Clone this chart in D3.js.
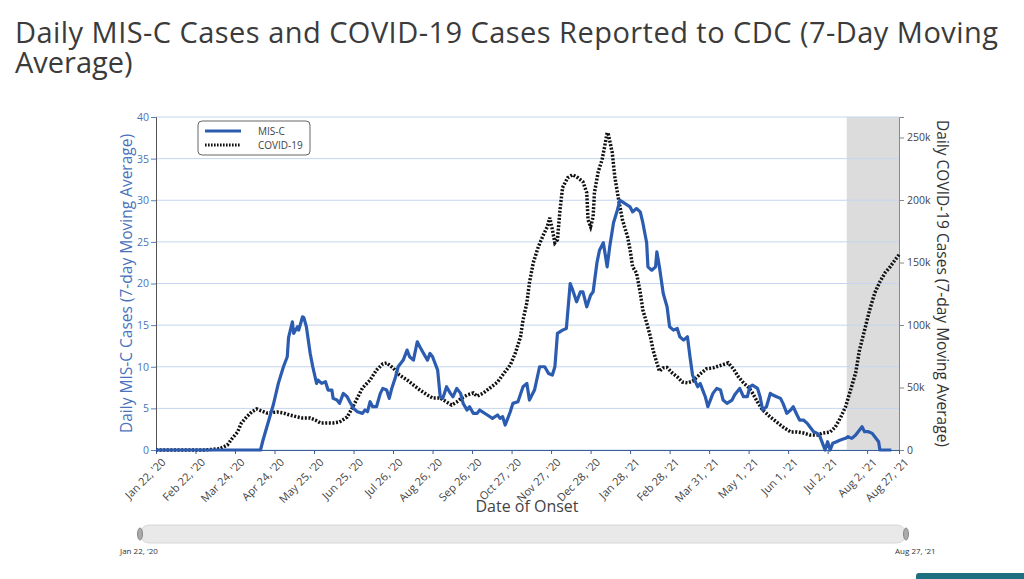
<!DOCTYPE html>
<html>
<head>
<meta charset="utf-8">
<script src="https://cdn.jsdelivr.net/npm/d3@7"></script>
<style>
  html, body { margin: 0; padding: 0; background: #fff; }
  svg { display: block; font-family: "Open Sans", sans-serif; }
</style>
</head>
<body>
<svg id="chart" width="1024" height="579"></svg>
<script>
// ---------- data ----------
const titleLines = ["Daily MIS-C Cases and COVID-19 Cases Reported to CDC (7-Day Moving", "Average)"];
const xTickDates = ["2020-01-22","2020-02-22","2020-03-24","2020-04-24","2020-05-25","2020-06-25",
  "2020-07-26","2020-08-26","2020-09-26","2020-10-27","2020-11-27","2020-12-28","2021-01-28",
  "2021-02-28","2021-03-31","2021-05-01","2021-06-01","2021-07-02","2021-08-02","2021-08-27"];
const leftTicks = [0,5,10,15,20,25,30,35,40];
const rightTicks = [0,50000,100000,150000,200000,250000];
const shadeStart = "2021-07-17";

const misDates = ["2020-01-22","2020-04-13","2020-04-15","2020-04-23","2020-04-27","2020-05-01","2020-05-04","2020-05-05",
  "2020-05-08","2020-05-09","2020-05-12","2020-05-13","2020-05-16","2020-05-17","2020-05-19","2020-05-22","2020-05-24",
  "2020-05-27","2020-05-28","2020-05-31","2020-06-03","2020-06-05","2020-06-08","2020-06-09","2020-06-12","2020-06-14",
  "2020-06-17","2020-06-20","2020-06-22","2020-06-25","2020-06-28","2020-07-02","2020-07-04","2020-07-06","2020-07-08",
  "2020-07-10","2020-07-13","2020-07-16","2020-07-18","2020-07-21","2020-07-23","2020-07-25","2020-07-28","2020-07-30",
  "2020-08-03","2020-08-06","2020-08-08","2020-08-11","2020-08-14","2020-08-16","2020-08-19","2020-08-22","2020-08-24",
  "2020-08-26","2020-08-30","2020-09-01","2020-09-03","2020-09-06","2020-09-09","2020-09-11","2020-09-14","2020-09-17",
  "2020-09-19","2020-09-22","2020-09-24","2020-09-27","2020-09-30","2020-10-02","2020-10-08","2020-10-12","2020-10-16",
  "2020-10-18","2020-10-20","2020-10-22","2020-10-26","2020-10-28","2020-11-01","2020-11-05","2020-11-08","2020-11-10",
  "2020-11-14","2020-11-18","2020-11-22","2020-11-25","2020-11-28","2020-11-30","2020-12-02","2020-12-06","2020-12-09",
  "2020-12-12","2020-12-14","2020-12-17","2020-12-20","2020-12-22","2020-12-25","2020-12-28","2020-12-30","2021-01-02",
  "2021-01-04","2021-01-07","2021-01-10","2021-01-12","2021-01-15","2021-01-18","2021-01-20","2021-01-22","2021-01-26",
  "2021-01-28","2021-01-30","2021-02-02","2021-02-05","2021-02-07","2021-02-10","2021-02-11","2021-02-14","2021-02-17",
  "2021-02-18","2021-02-20","2021-02-23","2021-02-26","2021-02-28","2021-03-03","2021-03-06","2021-03-08","2021-03-11",
  "2021-03-14","2021-03-16","2021-03-18","2021-03-22","2021-03-24","2021-03-26","2021-03-28","2021-03-30","2021-04-03",
  "2021-04-06","2021-04-09","2021-04-11","2021-04-14","2021-04-18","2021-04-20","2021-04-24","2021-04-27","2021-04-30",
  "2021-05-02","2021-05-04","2021-05-08","2021-05-10","2021-05-12","2021-05-15","2021-05-18","2021-05-20","2021-05-23",
  "2021-05-26","2021-05-28","2021-05-31","2021-06-03","2021-06-05","2021-06-08","2021-06-10","2021-06-13","2021-06-16",
  "2021-06-18","2021-06-21","2021-06-24","2021-06-26","2021-06-28","2021-06-30","2021-07-02","2021-07-04","2021-07-06",
  "2021-07-09","2021-07-12","2021-07-16","2021-07-18","2021-07-21","2021-07-24","2021-07-26","2021-07-29","2021-07-31",
  "2021-08-03","2021-08-06","2021-08-08","2021-08-11","2021-08-12","2021-08-21"];
const misValues = [0,0,1.2,5.4,8,10,11.2,13.5,
  15.4,14,14.8,14.4,16,15.9,14.8,11.6,10,
  8,8.4,8,8.2,7.2,7.2,6.2,6.0,5.6,
  6.8,6.4,5.8,5,4.6,4.4,4.8,4.6,5.8,
  5.2,5.2,6.8,7.4,7.2,6.2,7.4,8.8,10,
  10.8,12,11.2,10.8,13,12.4,11.6,10.8,11.6,
  11.2,9.6,6.4,6.2,7.6,6.8,6.4,7.4,6.8,
  5.6,4.8,5.2,4.4,4.4,4.8,4.2,3.8,4.2,
  3.8,4.0,3.0,4.6,5.6,5.8,7.6,8,6.0,
  7.2,10,10,9.2,9,10,14,14.4,14.6,
  20,19.2,17.8,19,19,17.2,18.6,19,22.5,
  24,24.9,22,24.4,27.3,28.8,30,29.8,29.4,
  29.2,28.6,29,28.6,27.3,24.9,22,21.6,22,
  23.8,22,18.8,17.2,14.8,14.4,14.6,13.6,13.2,
  13.6,11.2,9,7.6,8,7.2,6.4,5.2,6.8,
  7.4,7.2,6.0,5.6,6.0,6.6,7.4,6.4,6.4,
  7.6,7.8,7.4,6.4,4.8,5.2,6.8,6.6,6.4,
  6.2,5.6,4.4,4.8,5.2,4.2,3.6,3.6,3.2,
  2.8,2.2,2.0,1.6,0.8,0,1.0,0,0.8,
  1.0,1.2,1.4,1.6,1.4,1.8,2.2,2.8,2.2,
  2.2,2.0,1.6,1.0,0,0];

const covidDates = ["2020-01-22","2020-03-01","2020-03-12","2020-03-18","2020-03-22","2020-03-26","2020-03-29","2020-04-02",
  "2020-04-06","2020-04-10","2020-04-14","2020-04-18","2020-04-26","2020-05-01","2020-05-06","2020-05-12","2020-05-16",
  "2020-05-22","2020-05-26","2020-05-30","2020-06-04","2020-06-09","2020-06-14","2020-06-20","2020-06-24","2020-06-28",
  "2020-07-02","2020-07-08","2020-07-13","2020-07-18","2020-07-21","2020-07-26","2020-07-31","2020-08-06","2020-08-11",
  "2020-08-16","2020-08-22","2020-08-26","2020-09-01","2020-09-06","2020-09-10","2020-09-14","2020-09-18","2020-09-22",
  "2020-09-27","2020-09-30","2020-10-05","2020-10-10","2020-10-16","2020-10-20","2020-10-26","2020-10-30","2020-11-03",
  "2020-11-05","2020-11-08","2020-11-10","2020-11-13","2020-11-17","2020-11-21","2020-11-24","2020-11-26","2020-11-28",
  "2020-11-30","2020-12-02","2020-12-04","2020-12-06","2020-12-10","2020-12-14","2020-12-18","2020-12-22","2020-12-25",
  "2020-12-26","2020-12-28","2020-12-30","2020-12-31","2021-01-03","2021-01-06","2021-01-08","2021-01-10","2021-01-11",
  "2021-01-14","2021-01-16","2021-01-19","2021-01-22","2021-01-26","2021-01-28","2021-01-30","2021-02-02","2021-02-05",
  "2021-02-07","2021-02-10","2021-02-13","2021-02-15","2021-02-18","2021-02-20","2021-02-23","2021-02-26","2021-03-02",
  "2021-03-06","2021-03-10","2021-03-14","2021-03-18","2021-03-24","2021-03-29","2021-04-03","2021-04-10","2021-04-15",
  "2021-04-19","2021-04-23","2021-04-27","2021-05-01","2021-05-04","2021-05-08","2021-05-12","2021-05-18","2021-05-23",
  "2021-05-28","2021-06-03","2021-06-08","2021-06-13","2021-06-18","2021-06-24","2021-06-28","2021-07-04","2021-07-08",
  "2021-07-12","2021-07-16","2021-07-20","2021-07-24","2021-07-27","2021-07-31","2021-08-04","2021-08-08","2021-08-12",
  "2021-08-16","2021-08-20","2021-08-24","2021-08-27"];
const covidValues = [0,100,1000,4000,9600,14400,21600,26400,
  30400,32800,31200,29600,30400,29600,28000,26400,25600,
  25600,24000,21600,21600,21600,22400,26400,33600,41600,
  49600,56000,64000,68900,69700,65700,60000,56000,52000,
  48000,44000,41600,41600,38400,36000,38400,41600,44000,
  45600,43000,45600,49600,54400,60000,68000,77600,90500,
  104000,117700,133700,149700,162600,172200,178600,185800,176200,
  165800,168200,192200,209800,217800,220200,217800,214600,205800,
  184200,178600,186600,205800,222600,232200,242600,253900,252300,
  237800,218600,200200,184200,170600,160200,146500,141700,125700,
  112100,101700,90500,80000,69700,63000,65700,66000,61700,
  58500,54400,53700,55000,60800,65000,65700,68000,69700,
  65000,58500,53700,50000,45600,38400,32000,26400,22400,
  18400,14400,14400,13600,12000,12000,13600,14400,18400,
  25600,34400,48000,61700,80000,96000,112100,125700,134500,
  141700,146500,152200,156200];

// ---------- layout ----------
const parse = d3.utcParse("%Y-%m-%d");
const fmtTick = d3.utcFormat("%b %-d, '%y");
const svg = d3.select("#chart");
const L = 156, R = 899, T = 117, B = 450;

const x = d3.scaleUtc().domain([parse("2020-01-22"), parse("2021-08-27")]).range([L, R]);
const yL = d3.scaleLinear().domain([0, 40]).range([B, T]);
const yR = d3.scaleLinear().domain([0, 266400]).range([B, T]);

const mis = misDates.map((d, i) => ({ date: parse(d), v: misValues[i] }));
const cov = covidDates.map((d, i) => ({ date: parse(d), v: covidValues[i] }));

// title (single text element, two lines)
const title = svg.append("text").attr("font-size", 29).attr("fill", "#3b3b3b");
title.selectAll("tspan").data(titleLines).join("tspan")
  .attr("x", 15).attr("y", (d, i) => 43 + i * 29.5)
  .attr("textLength", (d, i) => i === 0 ? 983 : null)
  .attr("lengthAdjust", "spacing")
  .text(d => d);

// shaded incomplete region
svg.append("rect")
  .attr("x", x(parse(shadeStart))).attr("y", T)
  .attr("width", R - x(parse(shadeStart))).attr("height", B - T)
  .attr("fill", "#dcdcdc");

// gridlines
svg.append("g").selectAll("line").data(leftTicks).join("line")
  .attr("x1", L).attr("x2", R)
  .attr("y1", d => yL(d)).attr("y2", d => yL(d))
  .attr("stroke", "#c3d6ee").attr("stroke-width", 1);

// left axis
const gL = svg.append("g").attr("transform", `translate(${L},0)`)
  .call(d3.axisLeft(yL).tickValues(leftTicks).tickSize(5).tickPadding(2));
gL.select(".domain").attr("stroke", "#555");
gL.selectAll(".tick line").attr("stroke", "#5b7fc0");
gL.selectAll("text").attr("fill", "#4a73bd").attr("font-size", 10.5).attr("font-family", "Open Sans");

// right axis
const gR = svg.append("g").attr("transform", `translate(${R},0)`)
  .call(d3.axisRight(yR).tickValues(rightTicks).tickFormat(d3.format("~s")).tickSize(5).tickPadding(3));
gR.select(".domain").attr("stroke", "#888");
gR.selectAll(".tick line").attr("stroke", "#888");
gR.selectAll("text").attr("fill", "#444").attr("font-size", 10.5).attr("font-family", "Open Sans");

// bottom axis
const gX = svg.append("g").attr("transform", `translate(0,${B})`)
  .call(d3.axisBottom(x).tickValues(xTickDates.map(parse)).tickFormat(fmtTick).tickSize(4).tickPadding(2));
gX.select(".domain").attr("stroke", "#3d5d96");
gX.selectAll(".tick line").attr("stroke", "#3d5d96");
gX.selectAll("text")
  .attr("fill", "#444").attr("font-size", 11).attr("font-family", "Open Sans")
  .attr("text-anchor", "end").attr("dy", "0.35em")
  .attr("transform", "translate(3,6) rotate(-45)");

// axis titles
svg.append("text")
  .attr("transform", `translate(132,${(T + B) / 2}) rotate(-90)`)
  .attr("text-anchor", "middle").attr("font-size", 15.5).attr("fill", "#4a73bd")
  .text("Daily MIS-C Cases (7-day Moving Average)");
svg.append("text")
  .attr("transform", `translate(937,${(T + B) / 2}) rotate(90)`)
  .attr("text-anchor", "middle").attr("font-size", 15.5).attr("fill", "#333")
  .text("Daily COVID-19 Cases (7-day Moving Average)");
svg.append("text")
  .attr("x", 527).attr("y", 512).attr("text-anchor", "middle")
  .attr("font-size", 16).attr("fill", "#444")
  .text("Date of Onset");

// lines
svg.append("path").datum(cov)
  .attr("fill", "none").attr("stroke", "#111").attr("stroke-width", 3.5)
  .attr("stroke-dasharray", "2,1.6")
  .attr("d", d3.line().x(d => x(d.date)).y(d => yR(d.v)));
svg.append("path").datum(mis)
  .attr("fill", "none").attr("stroke", "#2b5cb0").attr("stroke-width", 3.2)
  .attr("stroke-linejoin", "round")
  .attr("d", d3.line().x(d => x(d.date)).y(d => yL(d.v)));

// legend
const lg = svg.append("g").attr("transform", "translate(198,121)");
lg.append("rect").attr("width", 112).attr("height", 34).attr("rx", 4)
  .attr("fill", "#fff").attr("stroke", "#666").attr("stroke-width", 1);
lg.append("line").attr("x1", 7).attr("x2", 43).attr("y1", 10).attr("y2", 10)
  .attr("stroke", "#2b5cb0").attr("stroke-width", 3);
lg.append("line").attr("x1", 7).attr("x2", 43).attr("y1", 24).attr("y2", 24)
  .attr("stroke", "#111").attr("stroke-width", 3).attr("stroke-dasharray", "1.6,1.4");
lg.append("text").attr("x", 60).attr("y", 14).attr("font-size", 10).attr("fill", "#444").text("MIS-C");
lg.append("text").attr("x", 60).attr("y", 28).attr("font-size", 10).attr("fill", "#444").text("COVID-19");

// range slider
svg.append("rect").attr("x", 140).attr("y", 525).attr("width", 766).attr("height", 18).attr("rx", 9)
  .attr("fill", "#e9e9e9").attr("stroke", "#d6d6d6");
svg.append("g").selectAll("ellipse").data([140, 906]).join("ellipse")
  .attr("cx", d => d).attr("cy", 534).attr("rx", 2.5).attr("ry", 6)
  .attr("fill", "#aaa").attr("stroke", "#888");
svg.append("text").attr("x", 120).attr("y", 554).attr("font-size", 8).attr("fill", "#333")
  .text(fmtTick(parse("2020-01-22")));
svg.append("text").attr("x", 895).attr("y", 554).attr("font-size", 8).attr("fill", "#333")
  .text(fmtTick(parse("2021-08-27")));

// bottom right button fragment
svg.append("rect").attr("x", 916).attr("y", 573).attr("width", 120).attr("height", 12).attr("rx", 3)
  .attr("fill", "#1e6f80");
</script>
</body>
</html>
